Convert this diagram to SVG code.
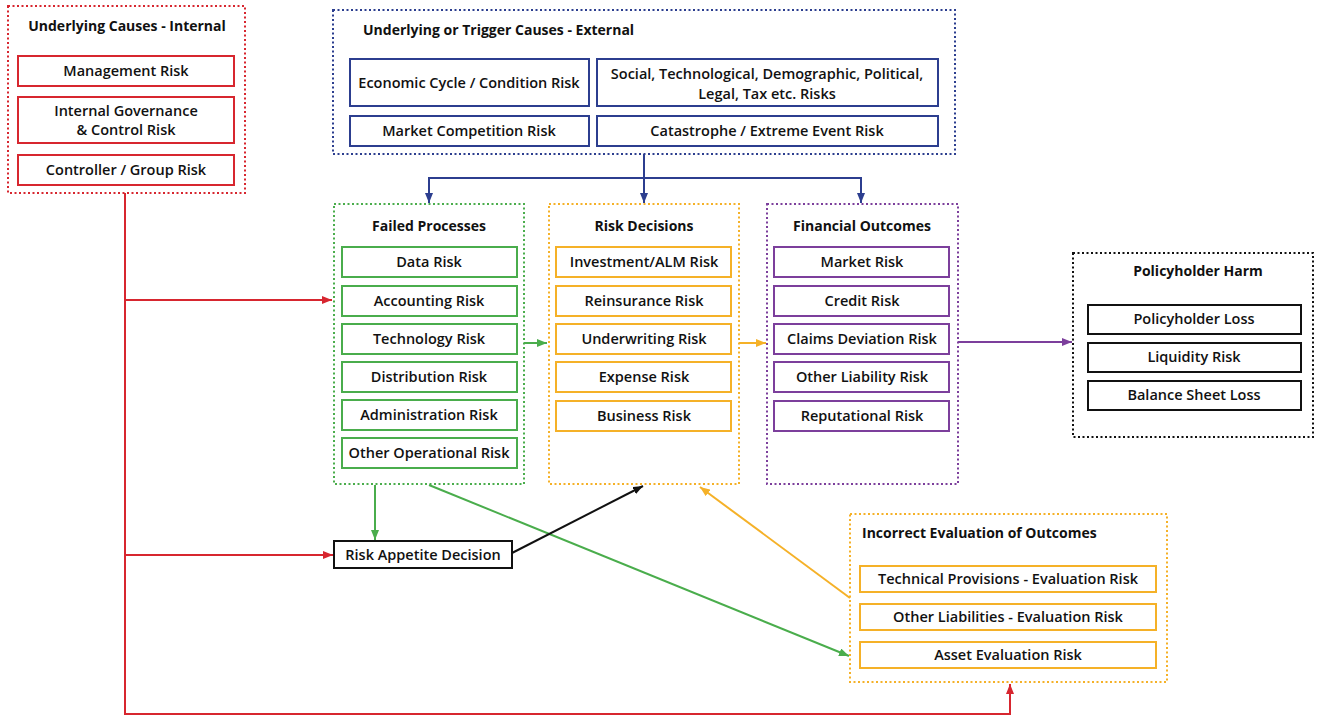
<svg xmlns="http://www.w3.org/2000/svg" width="1319" height="715" viewBox="0 0 1319 715">
<defs>
<style>
text{font-family:"Open Sans","Noto Sans",sans-serif;font-size:14px;fill:#111;}
.t{font-weight:700;}
.i{font-weight:600;text-anchor:middle;font-size:14.5px;}
.c{text-anchor:middle;}
.grp{fill:none;stroke-width:2;stroke-dasharray:2 2.5;}
.box{fill:#fff;stroke-width:2;}
.red{stroke:#d7262f;}
.blue{stroke:#2c3e8f;}
.green{stroke:#4aad4c;}
.orange{stroke:#f5b128;}
.purple{stroke:#7c3f9c;}
.black{stroke:#111;}
.ln{fill:none;stroke-width:2;}
</style>
<marker id="aRed" markerWidth="10" markerHeight="8" refX="10" refY="4" orient="auto" markerUnits="userSpaceOnUse"><path d="M0,0 L10,4 L0,8 z" fill="#d7262f"/></marker>
<marker id="aBlue" markerWidth="10" markerHeight="8" refX="10" refY="4" orient="auto" markerUnits="userSpaceOnUse"><path d="M0,0 L10,4 L0,8 z" fill="#2c3e8f"/></marker>
<marker id="aGreen" markerWidth="10" markerHeight="8" refX="10" refY="4" orient="auto" markerUnits="userSpaceOnUse"><path d="M0,0 L10,4 L0,8 z" fill="#4aad4c"/></marker>
<marker id="aOrange" markerWidth="10" markerHeight="8" refX="10" refY="4" orient="auto" markerUnits="userSpaceOnUse"><path d="M0,0 L10,4 L0,8 z" fill="#f5b128"/></marker>
<marker id="aPurple" markerWidth="10" markerHeight="8" refX="10" refY="4" orient="auto" markerUnits="userSpaceOnUse"><path d="M0,0 L10,4 L0,8 z" fill="#7c3f9c"/></marker>
<marker id="aBlack" markerWidth="10" markerHeight="8" refX="10" refY="4" orient="auto" markerUnits="userSpaceOnUse"><path d="M0,0 L10,4 L0,8 z" fill="#111"/></marker>
</defs>
<rect width="1319" height="715" fill="#fff"/>

<g id="connectors">
<path class="ln red" d="M125,193 V714 H1010 V684" marker-end="url(#aRed)"/>
<path class="ln red" d="M125,300 H332" marker-end="url(#aRed)"/>
<path class="ln red" d="M125,555 H333" marker-end="url(#aRed)"/>
<path class="ln blue" d="M644,154 V178 M429,178 H861"/>
<path class="ln blue" d="M429,177 V203" marker-end="url(#aBlue)"/>
<path class="ln blue" d="M644,177 V203" marker-end="url(#aBlue)"/>
<path class="ln blue" d="M861,177 V203" marker-end="url(#aBlue)"/>
<path class="ln green" d="M524,343 H547" marker-end="url(#aGreen)"/>
<path class="ln green" d="M375,485 V540" marker-end="url(#aGreen)"/>
<path class="ln green" d="M429,485 L849,656" marker-end="url(#aGreen)"/>
<path class="ln orange" d="M739,343 H766" marker-end="url(#aOrange)"/>
<path class="ln orange" d="M850,598 L700,487" marker-end="url(#aOrange)"/>
<path class="ln purple" d="M958,342 H1072" marker-end="url(#aPurple)"/>
<path class="ln black" d="M512,553 L643,486" marker-end="url(#aBlack)"/>
</g>

<g id="internal">
<rect class="grp red" x="8" y="6" width="237" height="187"/>
<text class="t c" x="127" y="31">Underlying Causes - Internal</text>
<g id="management-risk"><rect class="box red" x="18" y="56" width="216" height="30"/><text class="i" x="126" y="76">Management Risk</text></g>
<g id="governance-risk"><rect class="box red" x="18" y="97" width="216" height="46"/><text class="i" x="126" y="116">Internal Governance</text><text class="i" x="126" y="135">&amp; Control Risk</text></g>
<g id="controller-risk"><rect class="box red" x="18" y="155" width="216" height="30"/><text class="i" x="126" y="175">Controller / Group Risk</text></g>
</g>

<g id="external">
<rect class="grp blue" x="333" y="10" width="622" height="144"/>
<text class="t" x="363" y="35">Underlying or Trigger Causes - External</text>
<g id="economic"><rect class="box blue" x="350" y="59" width="239" height="47"/><text class="i" x="469" y="88">Economic Cycle / Condition Risk</text></g>
<g id="social"><rect class="box blue" x="597" y="59" width="341" height="47"/><text class="i" x="767" y="79">Social, Technological, Demographic, Political,</text><text class="i" x="767" y="99">Legal, Tax etc. Risks</text></g>
<g id="competition"><rect class="box blue" x="350" y="116" width="239" height="30"/><text class="i" x="469" y="136">Market Competition Risk</text></g>
<g id="catastrophe"><rect class="box blue" x="597" y="116" width="341" height="30"/><text class="i" x="767" y="136">Catastrophe / Extreme Event Risk</text></g>
</g>

<g id="failed-processes">
<rect class="grp green" x="334" y="204" width="190" height="280"/>
<text class="t c" x="429" y="231">Failed Processes</text>
<g id="data-risk"><rect class="box green" x="342" y="247" width="175" height="30"/><text class="i" x="429" y="267">Data Risk</text></g>
<g id="accounting-risk"><rect class="box green" x="342" y="286" width="175" height="30"/><text class="i" x="429" y="306">Accounting Risk</text></g>
<g id="technology-risk"><rect class="box green" x="342" y="324" width="175" height="30"/><text class="i" x="429" y="344">Technology Risk</text></g>
<g id="distribution-risk"><rect class="box green" x="342" y="362" width="175" height="30"/><text class="i" x="429" y="382">Distribution Risk</text></g>
<g id="administration-risk"><rect class="box green" x="342" y="400" width="175" height="30"/><text class="i" x="429" y="420">Administration Risk</text></g>
<g id="other-operational-risk"><rect class="box green" x="342" y="438" width="175" height="30"/><text class="i" x="429" y="458">Other Operational Risk</text></g>
</g>

<g id="risk-decisions">
<rect class="grp orange" x="549" y="204" width="190" height="280"/>
<text class="t c" x="644" y="231">Risk Decisions</text>
<g id="investment-risk"><rect class="box orange" x="556" y="247" width="175" height="30"/><text class="i" x="644" y="267">Investment/ALM Risk</text></g>
<g id="reinsurance-risk"><rect class="box orange" x="556" y="286" width="175" height="30"/><text class="i" x="644" y="306">Reinsurance Risk</text></g>
<g id="underwriting-risk"><rect class="box orange" x="556" y="324" width="175" height="30"/><text class="i" x="644" y="344">Underwriting Risk</text></g>
<g id="expense-risk"><rect class="box orange" x="556" y="362" width="175" height="30"/><text class="i" x="644" y="382">Expense Risk</text></g>
<g id="business-risk"><rect class="box orange" x="556" y="401" width="175" height="30"/><text class="i" x="644" y="421">Business Risk</text></g>
</g>

<g id="financial-outcomes">
<rect class="grp purple" x="767" y="204" width="191" height="280"/>
<text class="t c" x="862" y="231">Financial Outcomes</text>
<g id="market-risk"><rect class="box purple" x="774" y="247" width="175" height="30"/><text class="i" x="862" y="267">Market Risk</text></g>
<g id="credit-risk"><rect class="box purple" x="774" y="286" width="175" height="30"/><text class="i" x="862" y="306">Credit Risk</text></g>
<g id="claims-risk"><rect class="box purple" x="774" y="324" width="175" height="30"/><text class="i" x="862" y="344">Claims Deviation Risk</text></g>
<g id="other-liability-risk"><rect class="box purple" x="774" y="362" width="175" height="30"/><text class="i" x="862" y="382">Other Liability Risk</text></g>
<g id="reputational-risk"><rect class="box purple" x="774" y="401" width="175" height="30"/><text class="i" x="862" y="421">Reputational Risk</text></g>
</g>

<g id="policyholder-harm">
<rect class="grp black" x="1073" y="253" width="240" height="184"/>
<text class="t c" x="1198" y="276">Policyholder Harm</text>
<g id="policyholder-loss"><rect class="box black" x="1088" y="305" width="213" height="29"/><text class="i" x="1194" y="324">Policyholder Loss</text></g>
<g id="liquidity-risk"><rect class="box black" x="1088" y="343" width="213" height="29"/><text class="i" x="1194" y="362">Liquidity Risk</text></g>
<g id="balance-sheet-loss"><rect class="box black" x="1088" y="381" width="213" height="29"/><text class="i" x="1194" y="400">Balance Sheet Loss</text></g>
</g>

<g id="risk-appetite">
<rect class="box black" x="334" y="541" width="178" height="27"/>
<text class="i" x="423" y="560">Risk Appetite Decision</text>
</g>

<g id="incorrect-evaluation">
<rect class="grp orange" x="850" y="514" width="317" height="168"/>
<text class="t" x="862" y="538">Incorrect Evaluation of Outcomes</text>
<g id="technical-provisions"><rect class="box orange" x="860" y="566" width="296" height="26"/><text class="i" x="1008" y="584">Technical Provisions - Evaluation Risk</text></g>
<g id="other-liabilities"><rect class="box orange" x="860" y="604" width="296" height="26"/><text class="i" x="1008" y="622">Other Liabilities - Evaluation Risk</text></g>
<g id="asset-evaluation"><rect class="box orange" x="860" y="642" width="296" height="26"/><text class="i" x="1008" y="660">Asset Evaluation Risk</text></g>
</g>
</svg>
